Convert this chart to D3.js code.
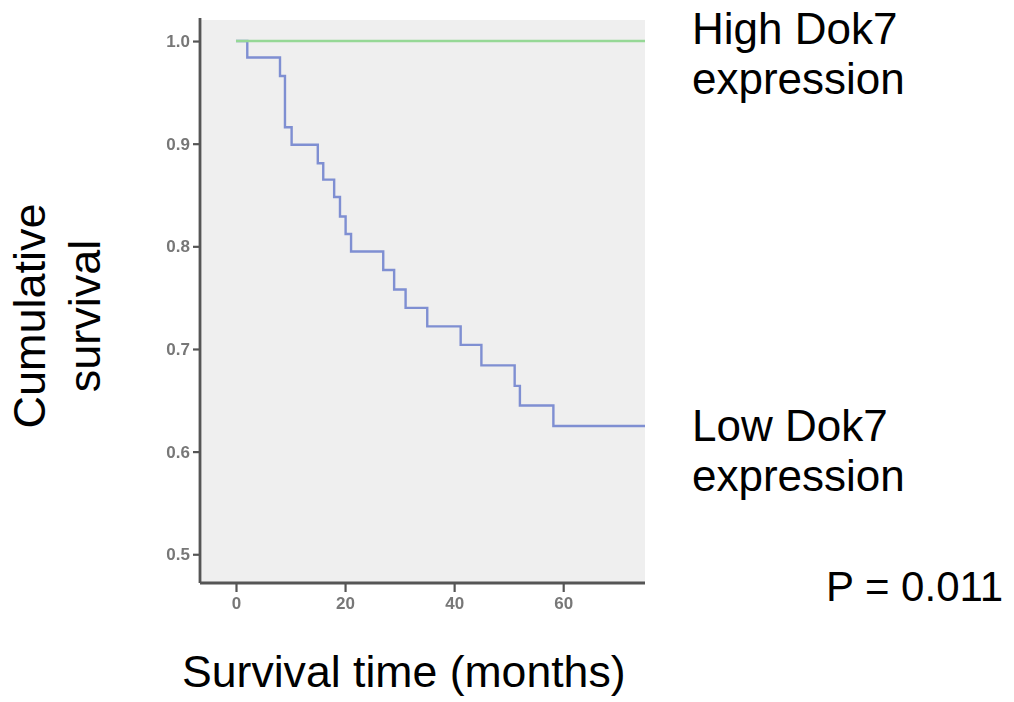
<!DOCTYPE html>
<html>
<head>
<meta charset="utf-8">
<script src="https://cdn.jsdelivr.net/npm/d3@7"></script>
<style>
  html, body { margin: 0; padding: 0; background: #fff; }
  svg { display: block; }
  text { font-family: "Liberation Sans", Arial, sans-serif; }
</style>
</head>
<body>
<svg id="chart" width="1014" height="702"></svg>
<script>
// Kaplan-Meier estimates by Dok7 expression group (months, cumulative survival)
const highTimes = [0, 75];
const highSurvival = [1.0, 1.0];

const lowTimes = [0, 2.07, 8.07, 8.98, 10.2, 15.0, 16.0, 18.0, 19.07, 20.1, 21.1,
                  27.0, 29.0, 31.1, 35.07, 41.2, 45.0, 51.1, 52.06, 58.2, 75];
const lowSurvival = [1.0, 0.984, 0.966, 0.916, 0.899, 0.881, 0.865, 0.848, 0.829, 0.812, 0.795,
                     0.777, 0.758, 0.740, 0.722, 0.704, 0.684, 0.664, 0.645, 0.625, 0.625];

const xTicks = [0, 20, 40, 60];
const yTicks = [0.5, 0.6, 0.7, 0.8, 0.9, 1.0];

const svg = d3.select("#chart");

const x = d3.scaleLinear().domain([-6.6, 75]).range([200, 645]);
const y = d3.scaleLinear().domain([0.472, 1.0205]).range([583, 20]);

// soft look of the exported statistics figure
const defs = svg.append("defs");
defs.append("filter").attr("id", "soft")
  .append("feGaussianBlur").attr("stdDeviation", 0.6);

// plot background
svg.append("rect")
  .attr("x", x.range()[0]).attr("y", y.range()[1])
  .attr("width", x.range()[1] - x.range()[0])
  .attr("height", y.range()[0] - y.range()[1])
  .attr("fill", "#efefef");

// axes
const xAxis = d3.axisBottom(x).tickValues(xTicks).tickSize(9).tickPadding(5)
  .tickFormat(d3.format("d"));
const yAxis = d3.axisLeft(y).tickValues(yTicks).tickSize(7).tickPadding(3)
  .tickFormat(d3.format(".1f"));

const gx = svg.append("g").attr("transform", `translate(0,${y.range()[0]})`).call(xAxis);
const gy = svg.append("g").attr("transform", `translate(${x.range()[0]},0)`).call(yAxis);

[gx, gy].forEach(g => {
  g.select(".domain").attr("stroke", "#555").attr("stroke-width", 2.8);
  g.selectAll(".tick line").attr("stroke", "#555").attr("stroke-width", 2.2);
  g.selectAll(".tick text")
    .attr("fill", "#777").attr("font-size", 17)
    .attr("font-family", "Liberation Sans, Arial, sans-serif")
    .attr("font-weight", "bold")
    .attr("filter", "url(#soft)");
});
// axis domain without end caps
gx.select(".domain").attr("d", `M${x.range()[0]},0H${x.range()[1]}`);
gy.select(".domain").attr("d", `M0,${y.range()[1] - 2}V${y.range()[0]}`);

// survival curves
const line = d3.line()
  .x(d => x(d[0])).y(d => y(d[1]))
  .curve(d3.curveStepAfter);

svg.append("path")
  .datum(lowTimes.map((t, i) => [t, lowSurvival[i]]))
  .attr("d", line)
  .attr("fill", "none")
  .attr("stroke", "#7f8fd2")
  .attr("stroke-width", 2.4);

svg.append("path")
  .datum(highTimes.map((t, i) => [t, highSurvival[i]]))
  .attr("d", line)
  .attr("fill", "none")
  .attr("stroke", "#96d896")
  .attr("stroke-width", 2.4);

// group labels
const big = 44;
function label(lines, xPos, baselines) {
  const t = svg.append("text").attr("font-size", big).attr("fill", "#000");
  lines.forEach((s, i) => {
    t.append("tspan").attr("x", xPos).attr("y", baselines[i]).text(s);
  });
}
label(["High Dok7", "expression"], 692, [44, 94]);
label(["Low Dok7", "expression"], 692, [441, 491]);

svg.append("text").attr("x", 826).attr("y", 601)
  .attr("font-size", 42).attr("fill", "#000").text("P = 0.011");

// axis titles
svg.append("text").attr("x", 182).attr("y", 687)
  .attr("font-size", 44.6).attr("fill", "#000").text("Survival time (months)");

const yTitle = svg.append("text")
  .attr("transform", "translate(0,316) rotate(-90)")
  .attr("text-anchor", "middle")
  .attr("font-size", 45).attr("fill", "#000");
yTitle.append("tspan").attr("x", 0).attr("y", 45).text("Cumulative");
yTitle.append("tspan").attr("x", 0).attr("y", 100).text("survival");
</script>
</body>
</html>
